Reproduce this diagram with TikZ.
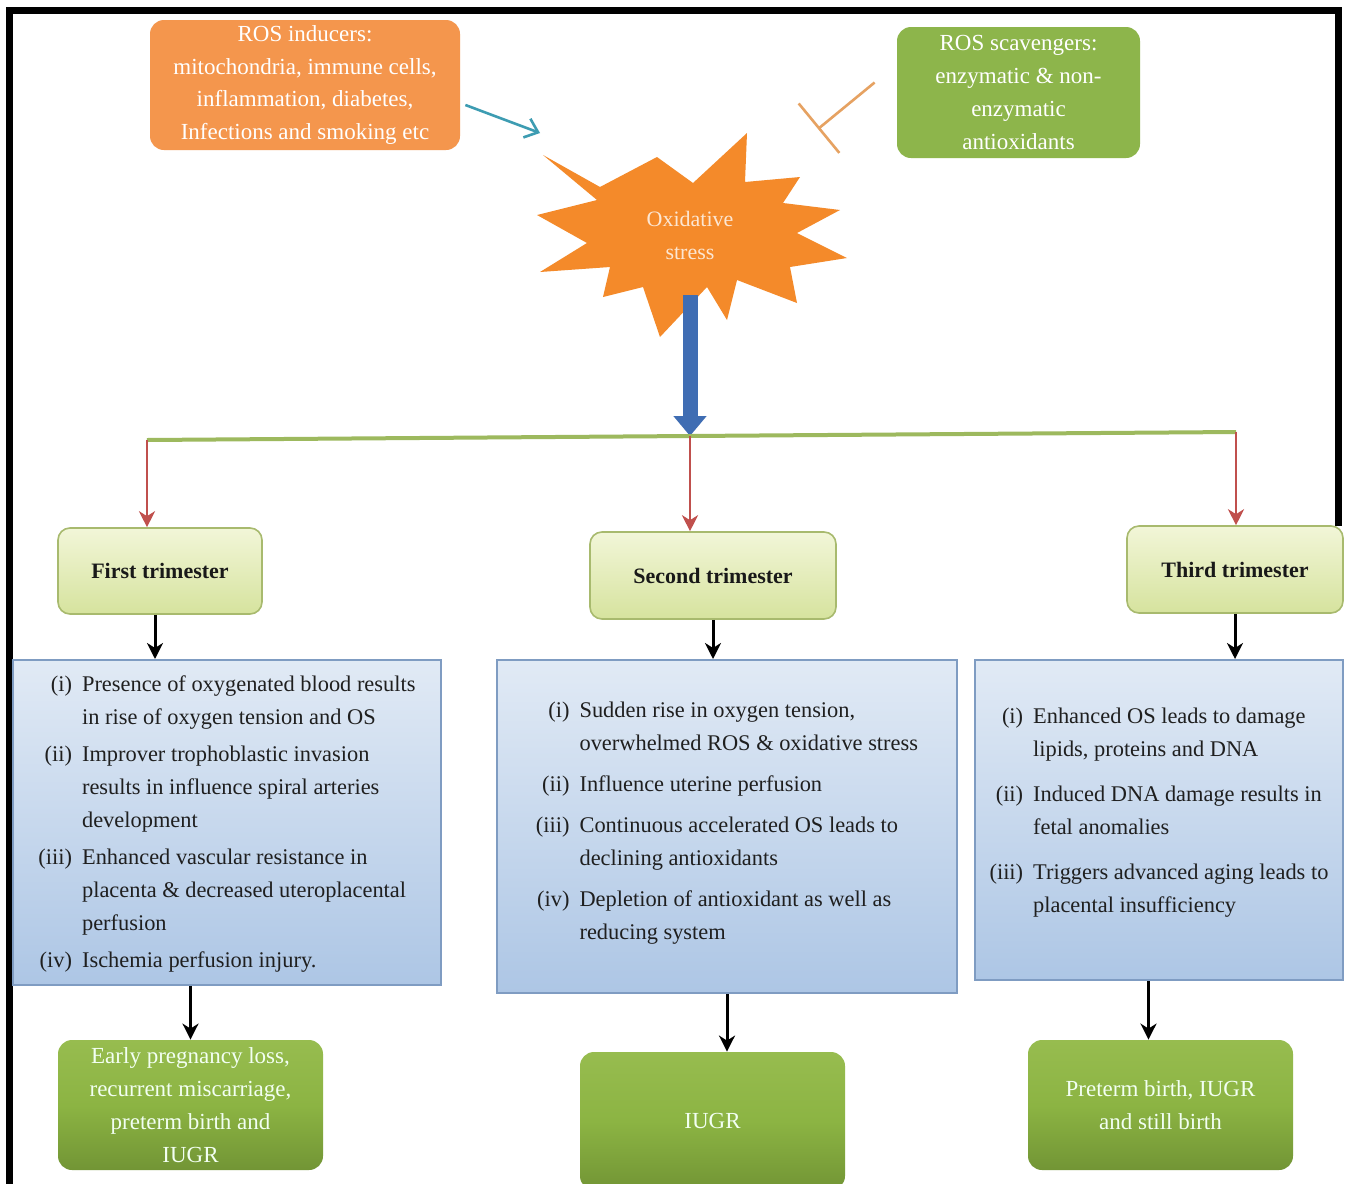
\documentclass[tikz,border=0pt]{standalone}
\usepackage{fontspec}
\setmainfont{Liberation Serif}
\usepackage{xcolor}
\usepackage{tikz}
\usetikzlibrary{shapes,arrows.meta,positioning,calc}

\definecolor{indorange}{HTML}{F4964D}
\definecolor{scvgreen}{HTML}{8DB54B}
\definecolor{burstorange}{HTML}{F48A2A}
\definecolor{bursttext}{HTML}{FCE6D2}
\definecolor{barblue}{HTML}{3F6DB3}
\definecolor{bargreen}{HTML}{9DB95E}
\definecolor{splitred}{HTML}{C0504D}
\definecolor{trimtop}{HTML}{F2F6D8}
\definecolor{trimbot}{HTML}{D6E39E}
\definecolor{trimline}{HTML}{A8BA6E}
\definecolor{listtop}{HTML}{E1EAF5}
\definecolor{listbot}{HTML}{ADC6E5}
\definecolor{listline}{HTML}{7F9CC2}
\definecolor{outtop}{HTML}{97BC4F}
\definecolor{outmid}{HTML}{8CB443}
\definecolor{outbot}{HTML}{729535}
\definecolor{inducarrow}{HTML}{3D9CB2}
\definecolor{inhibline}{HTML}{E6A262}

\newcommand{\ositems}[1]{\begin{tabular}{@{}r@{\hspace{5pt}}l@{}}#1\end{tabular}}

\begin{document}
\begin{tikzpicture}[x=0.5pt, y=-0.5pt,
    cause/.style={rectangle, rounded corners=7pt, fill=indorange, text=white, align=center, inner sep=1pt, font=\fontsize{11.5}{16.25}\selectfont},
    quench/.style={rectangle, rounded corners=7pt, fill=scvgreen, text=white, align=center, inner sep=1pt, font=\fontsize{11.5}{16.5}\selectfont},
    trimester/.style={rectangle, rounded corners=6pt, draw=trimline, line width=0.8pt, top color=trimtop, bottom color=trimbot, text=black!90, font=\fontsize{11}{13}\selectfont\bfseries},
    effects/.style={rectangle, draw=listline, line width=1pt, top color=listtop, bottom color=listbot, text=black!88, inner sep=0pt, font=\fontsize{11.2}{16.5}\selectfont},
    outcome/.style={rectangle, rounded corners=7pt, top color=outtop, bottom color=outbot, middle color=outmid, text=white!95!green, align=center, font=\fontsize{11.5}{16.5}\selectfont},
    link/.style={draw=black, line width=1.5pt, -{Stealth[length=8pt, width=8pt, inset=2.5pt]}},
    split/.style={draw=splitred, line width=1.3pt, -{Stealth[length=8pt, width=8pt, inset=2.5pt]}}]

  \useasboundingbox (0,0) rectangle (1345,1184);
  \clip (0,0) rectangle (1345,1184);
  \fill[white] (0,0) rectangle (1345,1184);

  % frame
  \draw[line width=3.5pt] (9,1200) -- (9,10) -- (1338.5,10) -- (1338.5,526);

  % sources of ROS
  \node[cause, minimum width=155pt, minimum height=65pt] (ind) at (305,85)
    {ROS inducers:\\ mitochondria, immune cells,\\ inflammation, diabetes,\\ Infections and smoking etc};
  \node[quench, minimum width=121.5pt, minimum height=65.5pt] (scv) at (1018.5,92.5)
    {ROS scavengers:\\ enzymatic \& non-\\ enzymatic\\ antioxidants};

  % oxidative stress burst
  \fill[burstorange] (543,155) -- (600,187) -- (657,157) -- (693,183) -- (747,133) -- (745,182)
    -- (800,177) -- (783,203) -- (840,210) -- (797,233) -- (847,258) -- (790,267) -- (797,303)
    -- (737,280) -- (727,320) -- (707,287) -- (660,337) -- (643,287) -- (603,297) -- (610,267)
    -- (540,272) -- (587,243) -- (537,215) -- (597,200) -- cycle;
  \node[text=bursttext, align=center, font=\fontsize{11}{16.5}\selectfont] (os) at (690,235) {Oxidative\\ stress};

  \coordinate (burstNW) at (540,133);
  \coordinate (burstNE) at (818,129);
  \coordinate (osbot) at (690,295);

  \draw[inducarrow, line width=1.3pt, -{Straight Barb[length=6pt, width=10pt]}] ($(ind.east)+(5,20)$) -- (burstNW);
  \draw[inhibline, line width=1.3pt, -{Bar[width=32pt, line width=1.3pt]}] ($(scv.west)+(-22,-10)$) -- (burstNE);

  % branch bar
  \coordinate (barL) at (147,440);
  \coordinate (split) at (690,436);
  \coordinate (barR) at (1236,432);
  \draw[barblue, line width=7.5pt, -{Triangle[length=10pt, width=16pt]}] (osbot) -- (split);
  \draw[bargreen, line width=2pt] (barL) -- (split) -- (barR);

  % trimesters
  \node[trimester, minimum width=102pt, minimum height=43pt] (T1) at (160,571) {First trimester};
  \node[trimester, minimum width=123pt, minimum height=43.5pt] (T2) at (713,575.5) {Second trimester};
  \node[trimester, minimum width=108pt, minimum height=43.5pt] (T3) at (1235,569.5) {Third trimester};

  \draw[split] (barL) -- (barL |- T1.north);
  \draw[split] (split) -- (split |- T2.north);
  \draw[split] (barR) -- (barR |- T3.north);

  % effects of OS
  \node[effects, minimum width=214pt, minimum height=162.5pt] (L1) at (227,822.5) {\ositems{%
    (i) & Presence of oxygenated blood results\\
        & in rise of oxygen tension and OS\\[2pt]
    (ii) & Improver trophoblastic invasion\\
         & results in influence spiral arteries\\
         & development\\[2pt]
    (iii) & Enhanced vascular resistance in\\
          & placenta \& decreased uteroplacental\\
          & perfusion\\[2pt]
    (iv) & Ischemia perfusion injury.}};
  \node[effects, minimum width=230pt, minimum height=166.5pt] (L2) at (727,826.5) {\ositems{%
    (i) & Sudden rise in oxygen tension,\\
        & overwhelmed ROS \& oxidative stress\\[4pt]
    (ii) & Influence uterine perfusion\\[4pt]
    (iii) & Continuous accelerated OS leads to\\
          & declining antioxidants\\[4pt]
    (iv) & Depletion of antioxidant as well as\\
         & reducing system\\[5pt]}};
  \node[effects, minimum width=184pt, minimum height=160pt] (L3) at (1159,820) {\ositems{%
    (i) & Enhanced OS leads to damage\\
        & lipids, proteins and DNA\\[6pt]
    (ii) & Induced DNA damage results in\\
         & fetal anomalies\\[6pt]
    (iii) & Triggers advanced aging leads to\\
          & placental insufficiency\\[9pt]}};

  \draw[link] ([xshift=-2.5pt]T1.south) -- ([xshift=-2.5pt]T1.south |- L1.north);
  \draw[link] (T2.south) -- (T2.south |- L2.north);
  \draw[link] (T3.south) -- (T3.south |- L3.north);

  % outcomes
  \node[outcome, minimum width=132.5pt, minimum height=65pt] (O1) at (190.5,1105)
    {Early pregnancy loss,\\ recurrent miscarriage,\\ preterm birth and\\ IUGR};
  \node[outcome, minimum width=132.5pt, minimum height=69pt] (O2) at (712.5,1121) {IUGR};
  \node[outcome, minimum width=132.5pt, minimum height=65pt] (O3) at (1160.5,1105)
    {Preterm birth, IUGR\\ and still birth};

  \draw[link] (O1.north |- L1.south) -- (O1.north);
  \draw[link] (L2.south) -- (L2.south |- O2.north);
  \draw[link] ([xshift=-6pt]O3.north |- L3.south) -- ([xshift=-6pt]O3.north);
\end{tikzpicture}
\end{document}
